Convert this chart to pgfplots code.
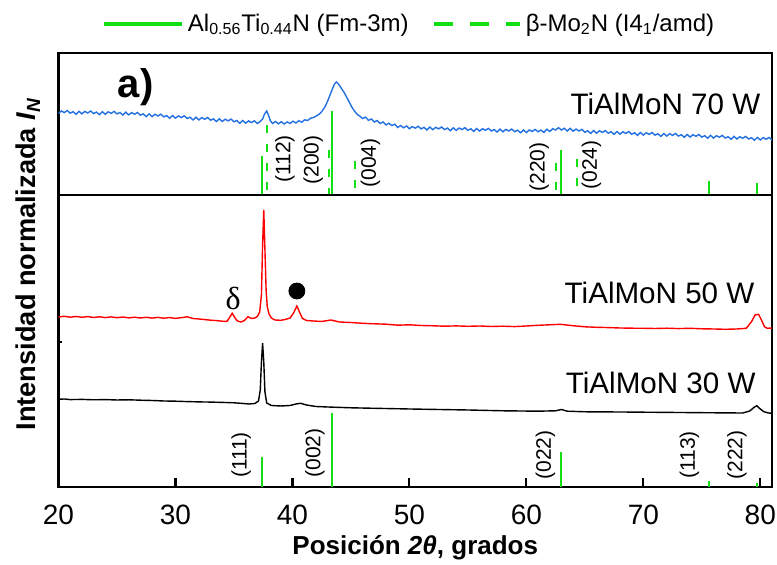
\documentclass[border=0pt]{standalone}
\usepackage{pgfplots}
\pgfplotsset{compat=1.18}
\usepackage{fontspec}
\setmainfont{Liberation Sans}
\newfontfamily\seriffont{Liberation Serif}
\definecolor{refgreen}{RGB}{20,222,20}
\definecolor{xblue}{RGB}{35,112,225}
\begin{document}
\begin{tikzpicture}
\begin{axis}[name=ax, at={(0,0)}, anchor=south west,
  scale only axis, width=356.75pt, height=217pt,
  xmin=20, xmax=81, ymin=-487, ymax=-53,
  axis line style={line width=1.25pt},
  xtick={20,30,40,50,60,70,80}, ytick=\empty,
  xtick pos=bottom, tick align=inside, major tick length=4.5pt,
  tick style={line width=1.1pt, black},
  /pgf/number format/assume math mode=true,
  xticklabel style={font=\fontsize{14}{14}\selectfont, yshift=-5.5pt},
  xlabel={\textbf{Posición \textit{2θ}, grados}},
  xlabel style={font=\fontsize{13}{15}\selectfont, at={(axis description cs:0.5,-0.1406)}, anchor=center},
  ylabel={\textbf{Intensidad normalizada \textit{I}\textsubscript{\textit{N}}}},
  ylabel style={font=\fontsize{13.6}{15}\selectfont, at={(axis description cs:-0.0427,0.514)}, anchor=center},
  legend columns=2,
  legend style={at={(axis description cs:0.4933,1.0668)}, anchor=center, draw=none, fill=none,
    font=\fontsize{12}{14}\selectfont,
    /tikz/every even column/.append style={column sep=10pt}},
  unbounded coords=jump,
]
% reference lines, Al0.56Ti0.44N (solid)
\addplot[refgreen, line width=1pt,
  legend image code/.code={\draw[refgreen, line width=1.6pt] (0pt,0pt) -- (39pt,0pt);}]
 coordinates {
 (37.4,-156) (37.4,-195) (37.4,nan)
 (43.4,-111) (43.4,-195) (43.4,nan)
 (63.0,-150) (63.0,-195) (63.0,nan)
 (75.65,-181) (75.65,-195) (75.65,nan)
 (79.7,-183) (79.7,-195) (79.7,nan)
 (37.4,-457) (37.4,-487) (37.4,nan)
 (43.4,-413) (43.4,-487) (43.4,nan)
 (63.0,-452) (63.0,-487) (63.0,nan)
 (75.65,-481) (75.65,-487) (75.65,nan)
 (79.7,-483) (79.7,-487)
 };
\addlegendentry{Al\textsubscript{0.56}Ti\textsubscript{0.44}N (Fm-3m)}
% reference lines, beta-Mo2N (dashed)
\addplot[refgreen, line width=1pt, dash pattern=on 4pt off 5.5pt,
  legend image code/.code={\draw[refgreen, line width=1.6pt, dash pattern=on 9.5pt off 8.5pt] (0pt,0pt) -- (43pt,0pt);}]
 coordinates {
 (37.8,-125) (37.8,-195) (37.8,nan)
 (43.1,-150) (43.1,-195) (43.1,nan)
 (45.37,-161) (45.37,-195) (45.37,nan)
 (62.5,-163) (62.5,-195) (62.5,nan)
 (64.29,-159) (64.29,-195)
 };
\addlegendentry{β-Mo\textsubscript{2}N (I4\textsubscript{1}/amd)}

% panel divider and small left tick
\addplot[black, line width=1.25pt, forget plot] coordinates {(20,-195) (81,-195)};
\addplot[black, line width=1pt, forget plot] coordinates {(20,-342) (20.3,-342)};

% TiAlMoN 70 W
\addplot[xblue, line width=0.7pt, forget plot] table[row sep=\\] {
x y\\
20.00 -113.5\\ 20.25 -111.0\\ 20.50 -112.6\\ 20.75 -110.6\\ 21.00 -113.2\\ 21.25 -111.7\\ 21.50 -114.3\\ 21.75 -111.3\\
22.00 -113.9\\ 22.25 -111.4\\ 22.50 -113.0\\ 22.75 -111.0\\ 23.00 -113.6\\ 23.25 -112.1\\ 23.50 -114.7\\ 23.75 -111.7\\
24.00 -114.3\\ 24.25 -111.8\\ 24.50 -113.4\\ 24.75 -111.4\\ 25.00 -113.9\\ 25.25 -112.5\\ 25.50 -115.0\\ 25.75 -112.2\\
26.00 -114.9\\ 26.25 -112.6\\ 26.50 -114.3\\ 26.75 -112.5\\ 27.00 -115.2\\ 27.25 -113.9\\ 27.50 -116.7\\ 27.75 -113.9\\
28.00 -116.6\\ 28.25 -114.3\\ 28.50 -116.0\\ 28.75 -114.2\\ 29.00 -116.9\\ 29.25 -115.6\\ 29.50 -118.3\\ 29.75 -115.5\\
30.00 -118.2\\ 30.25 -115.9\\ 30.50 -117.6\\ 30.75 -115.8\\ 31.00 -118.5\\ 31.25 -117.2\\ 31.50 -120.0\\ 31.75 -117.2\\
32.00 -119.9\\ 32.25 -117.6\\ 32.50 -119.3\\ 32.75 -117.5\\ 33.00 -120.2\\ 33.25 -118.9\\ 33.50 -121.6\\ 33.75 -118.8\\
34.00 -121.5\\ 34.25 -119.2\\ 34.50 -120.9\\ 34.75 -119.1\\ 35.00 -121.8\\ 35.25 -120.5\\ 35.50 -123.3\\ 35.75 -120.5\\
36.00 -123.2\\ 36.25 -120.9\\ 36.50 -122.6\\ 36.75 -120.8\\ 37.00 -123.5\\ 37.25 -121.5\\ 37.45 -119.0\\ 37.62 -114.0\\
37.80 -111.0\\ 37.95 -115.0\\ 38.10 -120.5\\ 38.30 -123.5\\ 38.55 -121.5\\ 38.80 -123.8\\ 39.05 -121.8\\ 39.30 -124.0\\
39.55 -122.0\\ 39.80 -123.5\\ 40.05 -121.2\\ 40.30 -123.0\\ 40.55 -120.8\\ 40.80 -122.2\\ 41.05 -119.8\\ 41.30 -120.5\\
41.55 -118.2\\ 41.80 -117.5\\ 42.05 -116.0\\ 42.30 -114.0\\ 42.55 -111.0\\ 42.80 -106.5\\ 43.05 -100.0\\ 43.25 -94.0\\
43.45 -88.0\\ 43.60 -84.0\\ 43.75 -82.0\\ 43.90 -83.5\\ 44.05 -86.0\\ 44.25 -89.5\\ 44.45 -93.0\\ 44.65 -97.5\\
44.85 -102.0\\ 45.05 -106.5\\ 45.30 -111.0\\ 45.55 -114.5\\ 45.80 -116.5\\ 46.00 -118.5\\ 46.25 -117.2\\ 46.50 -120.3\\
46.75 -119.0\\ 47.00 -122.0\\ 47.25 -120.5\\ 47.50 -123.5\\ 47.75 -122.0\\ 48.00 -125.0\\ 48.25 -123.2\\ 48.50 -125.6\\
48.75 -124.2\\ 49.00 -127.5\\ 49.25 -125.6\\ 49.50 -127.8\\ 49.75 -126.0\\ 50.00 -128.7\\ 50.25 -126.6\\ 50.50 -128.2\\
50.75 -126.3\\ 51.00 -128.9\\ 51.25 -127.4\\ 51.50 -130.0\\ 51.75 -127.1\\ 52.00 -129.7\\ 52.25 -127.3\\ 52.50 -128.9\\
52.75 -127.0\\ 53.00 -129.6\\ 53.25 -128.1\\ 53.50 -130.7\\ 53.75 -127.8\\ 54.00 -130.4\\ 54.25 -128.0\\ 54.50 -129.6\\
54.75 -127.7\\ 55.00 -130.3\\ 55.25 -128.8\\ 55.50 -131.4\\ 55.75 -128.5\\ 56.00 -131.1\\ 56.25 -128.7\\ 56.50 -130.3\\
56.75 -128.4\\ 57.00 -131.0\\ 57.25 -129.5\\ 57.50 -132.1\\ 57.75 -129.2\\ 58.00 -131.8\\ 58.25 -129.4\\ 58.50 -131.0\\
58.75 -129.1\\ 59.00 -131.7\\ 59.25 -130.2\\ 59.50 -132.8\\ 59.75 -129.9\\ 60.00 -132.5\\ 60.25 -130.0\\ 60.50 -131.5\\
60.75 -129.4\\ 61.00 -131.8\\ 61.25 -130.1\\ 61.50 -132.4\\ 61.75 -129.2\\ 62.00 -131.5\\ 62.25 -128.7\\ 62.50 -130.0\\
62.75 -127.7\\ 63.00 -130.0\\ 63.25 -128.3\\ 63.50 -131.0\\ 63.75 -128.3\\ 64.00 -131.2\\ 64.25 -129.1\\ 64.50 -131.0\\
64.75 -129.4\\ 65.00 -132.2\\ 65.25 -130.8\\ 65.50 -133.4\\ 65.75 -130.6\\ 66.00 -133.2\\ 66.25 -130.8\\ 66.50 -132.4\\
66.75 -130.6\\ 67.00 -133.2\\ 67.25 -131.8\\ 67.50 -134.4\\ 67.75 -131.5\\ 68.00 -134.2\\ 68.25 -131.8\\ 68.50 -133.4\\
68.75 -131.5\\ 69.00 -134.2\\ 69.25 -132.8\\ 69.50 -135.4\\ 69.75 -132.5\\ 70.00 -135.1\\ 70.25 -132.8\\ 70.50 -134.4\\
70.75 -132.5\\ 71.00 -135.1\\ 71.25 -133.8\\ 71.50 -136.4\\ 71.75 -133.5\\ 72.00 -136.1\\ 72.25 -133.7\\ 72.50 -135.4\\
72.75 -133.5\\ 73.00 -136.1\\ 73.25 -134.7\\ 73.50 -137.3\\ 73.75 -134.5\\ 74.00 -137.1\\ 74.25 -134.7\\ 74.50 -136.3\\
74.75 -134.5\\ 75.00 -137.1\\ 75.25 -135.7\\ 75.50 -138.3\\ 75.75 -135.4\\ 76.00 -138.1\\ 76.25 -135.7\\ 76.50 -137.3\\
76.75 -135.4\\ 77.00 -138.1\\ 77.25 -136.7\\ 77.50 -139.3\\ 77.75 -136.4\\ 78.00 -139.0\\ 78.25 -136.7\\ 78.50 -138.3\\
78.75 -136.4\\ 79.00 -139.0\\ 79.25 -137.7\\ 79.50 -140.3\\ 79.75 -137.4\\ 80.00 -140.0\\ 80.25 -137.6\\ 80.50 -139.3\\
80.75 -137.4\\ 81.00 -140.0\\
};

% TiAlMoN 50 W
\addplot[red, line width=0.7pt, forget plot] table[row sep=\\] {
x y\\
20.0 -317.0\\ 20.5 -316.3\\ 21.0 -317.2\\ 21.5 -316.5\\ 22.0 -317.3\\ 22.5 -316.6\\ 23.0 -317.5\\ 23.5 -316.8\\
24.0 -317.6\\ 24.5 -316.9\\ 25.0 -317.7\\ 25.5 -317.0\\ 26.0 -317.9\\ 26.5 -317.2\\ 27.0 -318.0\\ 27.5 -317.3\\
28.0 -318.1\\ 28.5 -317.4\\ 29.0 -318.2\\ 29.5 -317.6\\ 30.0 -318.4\\ 30.5 -317.7\\ 31.0 -316.8\\ 31.5 -318.5\\
32.0 -319.0\\ 32.5 -319.6\\ 33.0 -320.2\\ 33.5 -320.6\\ 34.0 -321.2\\ 34.4 -321.5\\ 34.6 -318.0\\ 34.85 -313.3\\
35.1 -318.0\\ 35.3 -321.0\\ 35.6 -322.0\\ 35.9 -320.5\\ 36.2 -316.7\\ 36.5 -318.5\\ 36.8 -318.0\\ 37.0 -316.5\\
37.2 -312.0\\ 37.35 -295.0\\ 37.45 -245.0\\ 37.55 -210.0\\ 37.65 -250.0\\ 37.75 -290.0\\ 37.85 -307.0\\ 38.0 -314.0\\
38.2 -318.0\\ 38.5 -320.0\\ 39.0 -320.3\\ 39.4 -319.5\\ 39.8 -318.0\\ 40.1 -313.0\\ 40.38 -306.0\\ 40.6 -312.0\\
40.85 -318.3\\ 41.2 -320.5\\ 41.8 -321.0\\ 42.5 -321.5\\ 43.3 -320.0\\ 44.0 -322.0\\ 45.0 -322.5\\ 46.0 -323.3\\
47.0 -323.8\\ 48.0 -324.2\\ 49.0 -325.2\\ 50.0 -324.8\\ 51.0 -325.5\\ 52.0 -325.8\\ 53.0 -326.2\\ 54.0 -325.9\\
55.0 -326.3\\ 56.0 -326.0\\ 57.0 -326.5\\ 58.0 -326.2\\ 59.0 -326.6\\ 60.0 -326.0\\ 61.0 -325.3\\ 62.0 -324.8\\
62.9 -324.3\\ 63.8 -325.5\\ 65.0 -326.8\\ 66.0 -327.3\\ 67.0 -327.6\\ 68.0 -328.0\\ 69.0 -328.2\\ 70.0 -328.3\\
71.0 -328.5\\ 72.0 -328.2\\ 73.0 -328.6\\ 74.0 -328.3\\ 75.0 -328.8\\ 76.0 -329.0\\ 77.0 -329.3\\ 78.0 -329.0\\
78.8 -328.3\\ 79.25 -321.7\\ 79.55 -315.0\\ 79.85 -314.3\\ 80.1 -320.0\\ 80.35 -326.7\\ 80.6 -328.3\\ 81.0 -328.0\\
};

% TiAlMoN 30 W
\addplot[black, line width=0.7pt, forget plot] table[row sep=\\] {
x y\\
20.0 -399.3\\ 20.5 -399.0\\ 21.0 -399.6\\ 22.0 -399.4\\ 23.0 -399.8\\ 24.0 -399.6\\ 25.0 -400.0\\ 26.0 -399.8\\
27.0 -400.2\\ 28.0 -400.5\\ 29.0 -401.0\\ 30.0 -401.2\\ 31.0 -401.6\\ 32.0 -401.9\\ 33.0 -402.1\\ 34.0 -402.4\\
35.0 -402.8\\ 35.8 -403.5\\ 36.3 -404.0\\ 36.8 -403.5\\ 37.1 -401.0\\ 37.25 -390.0\\ 37.35 -362.0\\ 37.45 -343.3\\
37.55 -362.0\\ 37.65 -392.0\\ 37.8 -403.0\\ 38.2 -405.5\\ 39.0 -406.0\\ 39.8 -405.5\\ 40.3 -404.0\\ 40.7 -403.3\\
41.2 -405.0\\ 42.0 -406.5\\ 43.0 -407.0\\ 45.0 -407.8\\ 47.0 -408.3\\ 50.0 -409.0\\ 53.0 -409.6\\ 55.0 -410.0\\
58.0 -410.8\\ 61.0 -411.2\\ 62.5 -410.8\\ 63.0 -409.5\\ 63.5 -411.2\\ 65.0 -411.8\\ 68.0 -412.0\\ 71.0 -412.3\\
74.0 -412.6\\ 77.0 -412.9\\ 78.5 -413.0\\ 79.1 -411.0\\ 79.45 -407.5\\ 79.7 -405.7\\ 79.95 -408.5\\ 80.3 -411.7\\
80.7 -413.0\\ 81.0 -413.3\\
};

% bullet marker above the 40.4 peak
\addplot[only marks, mark=*, mark size=4pt, black, forget plot] coordinates {(40.38,-291)};

% annotations
\node[font=\bfseries\fontsize{20}{20}\selectfont] at (axis cs:26.6,-87) {a)};
\node[anchor=east, font=\fontsize{14.8}{16}\selectfont] at (axis cs:80.6,-104) {TiAlMoN 70 W};
\node[anchor=east, font=\fontsize{14.8}{16}\selectfont] at (axis cs:80.1,-293) {TiAlMoN 50 W};
\node[anchor=east, font=\fontsize{14.8}{16}\selectfont] at (axis cs:80.2,-383) {TiAlMoN 30 W};
\node[font=\seriffont\fontsize{16}{16}\selectfont] at (axis cs:34.93,-298) {δ};
% hkl labels
\begin{scope}[every node/.style={rotate=90, font=\fontsize{10.5}{12}\selectfont, anchor=center}]
\node at (axis cs:39.36,-159) {(112)};
\node at (axis cs:41.78,-160) {(200)};
\node at (axis cs:46.68,-163) {(004)};
\node at (axis cs:61.1,-167) {(220)};
\node at (axis cs:65.57,-165) {(024)};
\node at (axis cs:35.61,-455) {(111)};
\node at (axis cs:41.93,-453) {(002)};
\node at (axis cs:61.64,-455) {(022)};
\node at (axis cs:73.95,-455) {(113)};
\node at (axis cs:78.0,-455) {(222)};
\end{scope}
\end{axis}
\pgfresetboundingbox
\path[use as bounding box] ([shift={(-29.25pt,-39pt)}]ax.south west) rectangle ([shift={(359.25pt,243.5pt)}]ax.south west);
\end{tikzpicture}
\end{document}
